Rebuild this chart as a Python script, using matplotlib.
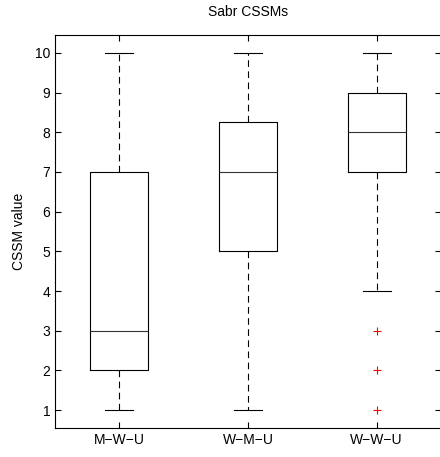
import matplotlib
matplotlib.use("Agg")
import matplotlib.pyplot as plt

plt.rcParams['font.family'] = ['Liberation Sans', 'DejaVu Sans']

# Box statistics
labels = ['M\u2212W\u2212U', 'W\u2212M\u2212U', 'W\u2212W\u2212U']
whislo = [1, 1, 4]
q1 = [2, 5, 7]
med = [3, 7, 8]
q3 = [7, 8.25, 9]
whishi = [10, 10, 10]
fliers = [[], [], [1, 2, 3]]

stats = []
for i in range(len(labels)):
    stats.append(dict(label=labels[i], whislo=whislo[i], q1=q1[i], med=med[i],
                      q3=q3[i], whishi=whishi[i], fliers=fliers[i]))

fig = plt.figure(figsize=(4.4, 4.57), dpi=100)
ax = fig.add_axes([55 / 440, 29 / 457, 386 / 440, 393 / 457])

ax.bxp(stats, positions=[1, 2, 3], widths=0.45, showfliers=True,
       boxprops=dict(color='black', linewidth=0.8),
       medianprops=dict(color='#333333', linewidth=0.8),
       whiskerprops=dict(color='black', linewidth=0.8, linestyle=(0, (6, 4))),
       capprops=dict(color='black', linewidth=0.8),
       capwidths=0.22,
       flierprops=dict(marker='+', markeredgecolor='red', markersize=6,
                       markeredgewidth=0.8, linestyle='none'))

ax.set_xlim(0.5, 3.5)
ax.set_ylim(0.55, 10.45)
ax.set_yticks(range(1, 11))
ax.set_xticks([1, 2, 3])
ax.set_xticklabels(labels)
ax.tick_params(direction='in', length=4, width=0.8, labelsize=10,
               top=True, right=True)
for s in ax.spines.values():
    s.set_linewidth(0.8)

ax.set_title('Sabr CSSMs', fontsize=10, pad=14)
ax.set_ylabel('CSSM value', fontsize=10, labelpad=6)

fig.savefig('out.png', dpi=100)
